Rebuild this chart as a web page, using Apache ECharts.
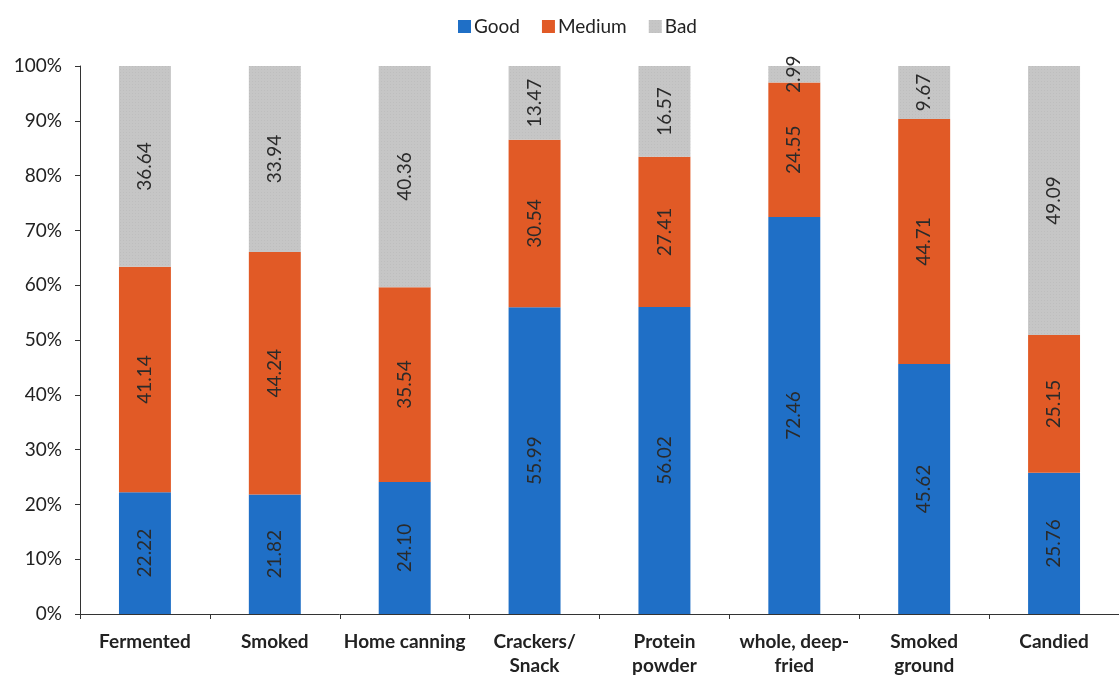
<!DOCTYPE html>
<html>
<head>
<meta charset="utf-8">
<script src="https://cdn.jsdelivr.net/npm/echarts@6/dist/echarts.min.js"></script>
<style>
  html, body { margin: 0; padding: 0; background: #fff; overflow: hidden; }
  #chart { width: 1119px; height: 678px; }
</style>
</head>
<body>
<div id="chart"></div>
<script>
// Quality shares per processing method (percent of samples)
const categories = ['Fermented', 'Smoked', 'Home canning', 'Crackers/\nSnack', 'Protein\npowder', 'whole, deep-\nfried', 'Smoked\nground', 'Candied'];
const good   = [22.22, 21.82, 24.10, 55.99, 56.02, 72.46, 45.62, 25.76];
const medium = [41.14, 44.24, 35.54, 30.54, 27.41, 24.55, 44.71, 25.15];
const bad    = [36.64, 33.94, 40.36, 13.47, 16.57, 2.99, 9.67, 49.09];
const yTicks = [0, 10, 20, 30, 40, 50, 60, 70, 80, 90, 100];

const FONT = 'Lato, "Noto Sans", sans-serif';

const segLabel = {
  show: true,
  position: 'inside',
  rotate: 90,
  color: '#2a2a2a',
  fontSize: 19,
  fontFamily: FONT,
  formatter: p => p.value.toFixed(2)
};

function series(name, data, color, decal) {
  return {
    name, type: 'bar', stack: 'total', data,
    barWidth: '40%',
    itemStyle: { color, decal },
    label: segLabel,
    emphasis: { disabled: true }
  };
}

const chart = echarts.init(document.getElementById('chart'), null, { renderer: 'canvas', width: 1119, height: 678 });
chart.setOption({
  animation: false,
  backgroundColor: '#fff',
  aria: { enabled: false },
  legend: {
    top: 12,
    left: 453,
    itemWidth: 13,
    itemHeight: 13,
    itemGap: 22,
    icon: 'rect',
    textStyle: { fontSize: 19, color: '#222', fontFamily: FONT, padding: [0, 0, 0, -2] },
    data: ['Good', 'Medium', 'Bad']
  },
  grid: { left: 80, width: 1056, top: 66, height: 555, containLabel: false },
  xAxis: {
    type: 'category',
    data: categories,
    axisLine: { lineStyle: { color: '#333', width: 1 } },
    axisTick: { show: true, length: 5, lineStyle: { color: '#333' } },
    axisLabel: {
      interval: 0,
      margin: 16,
      fontSize: 19,
      fontWeight: 'bold',
      color: '#222',
      fontFamily: FONT,
      lineHeight: 24
    }
  },
  yAxis: {
    type: 'value',
    min: yTicks[0],
    max: yTicks[yTicks.length - 1],
    interval: yTicks[1] - yTicks[0],
    axisLine: { show: true, lineStyle: { color: '#333', width: 1 } },
    axisTick: { show: true, length: 5, lineStyle: { color: '#333' } },
    splitLine: { show: false },
    axisLabel: {
      margin: 18,
      fontSize: 19,
      color: '#222',
      fontFamily: FONT,
      formatter: v => v + '%'
    }
  },
  series: [
    series('Good', good, '#1f6fc6'),
    series('Medium', medium, '#e15a26'),
    series('Bad', bad, '#c6c6c6', {
      symbol: 'rect', symbolSize: 0.6, dashArrayX: [1, 2], dashArrayY: [1, 2],
      color: 'rgba(140,140,140,0.4)', rotation: 0
    })
  ]
});
</script>
</body>
</html>
